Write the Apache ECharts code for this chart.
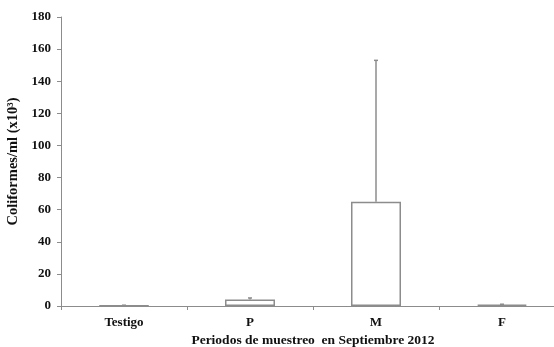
<!DOCTYPE html>
<html><head><meta charset="utf-8">
<script src="https://cdn.jsdelivr.net/npm/echarts@6/dist/echarts.min.js"></script>
<style>html,body{margin:0;padding:0;background:#fff}#c{width:554px;height:347px}</style>
</head><body><div id="c"></div>
<script>
var categories = ['Testigo', 'P', 'M', 'F'];
var means = [0.3, 4, 65, 0.8];
var errors = [0.2, 1, 88, 0.3];
var yTicks = [0, 20, 40, 60, 80, 100, 120, 140, 160, 180];

var chart = echarts.init(document.getElementById('c'), null, {renderer: 'canvas'});
var font = '"Liberation Serif", "Times New Roman", serif';
var errData = categories.map(function (c, i) { return [i, means[i], means[i] + errors[i]]; });
chart.setOption({
  animation: false,
  grid: {left: 61, top: 17, bottom: 41, width: 504, containLabel: false, outerBoundsMode: 'none'},
  xAxis: {
    type: 'category', data: categories,
    axisLine: {lineStyle: {color: '#8c8c8c', width: 1}},
    axisTick: {show: true, length: 4, lineStyle: {color: '#8c8c8c'}},
    axisLabel: {color: '#111', fontFamily: font, fontWeight: 'bold', fontSize: 13, margin: 10},
    name: 'Periodos de muestreo  en Septiembre 2012', nameLocation: 'middle', nameGap: 27,
    nameTextStyle: {color: '#111', fontFamily: font, fontWeight: 'bold', fontSize: 13.5}
  },
  yAxis: {
    type: 'value', min: 0, max: 180, interval: 20,
    axisLine: {show: true, lineStyle: {color: '#8c8c8c', width: 1}},
    axisTick: {show: true, length: 4, lineStyle: {color: '#8c8c8c'}},
    splitLine: {show: false},
    axisLabel: {color: '#111', fontFamily: font, fontWeight: 'bold', fontSize: 13, margin: 10,
      formatter: function (v) { return yTicks.indexOf(v) >= 0 ? String(v) : ''; }},
    name: 'Coliformes/ml (x10³)', nameLocation: 'middle', nameGap: 34, nameRotate: 90,
    nameTextStyle: {color: '#111', fontFamily: font, fontWeight: 'bold', fontSize: 14.5}
  },
  series: [{
    type: 'bar', data: means, barWidth: 50,
    itemStyle: {color: '#fff', borderColor: '#8c8c8c', borderWidth: 1.5}
  }, {
    type: 'custom', data: errData,
    renderItem: function (params, api) {
      var x = api.value(0);
      var lo = api.coord([x, api.value(1)]);
      var hi = api.coord([x, api.value(2)]);
      return {type: 'group', children: [
        {type: 'line', shape: {x1: lo[0], y1: lo[1], x2: hi[0], y2: hi[1]}, style: {stroke: '#8c8c8c', lineWidth: 1.5}},
        {type: 'line', shape: {x1: hi[0] - 2, y1: hi[1], x2: hi[0] + 2, y2: hi[1]}, style: {stroke: '#8c8c8c', lineWidth: 1.5}}
      ]};
    },
    z: 3
  }]
});
</script></body></html>
